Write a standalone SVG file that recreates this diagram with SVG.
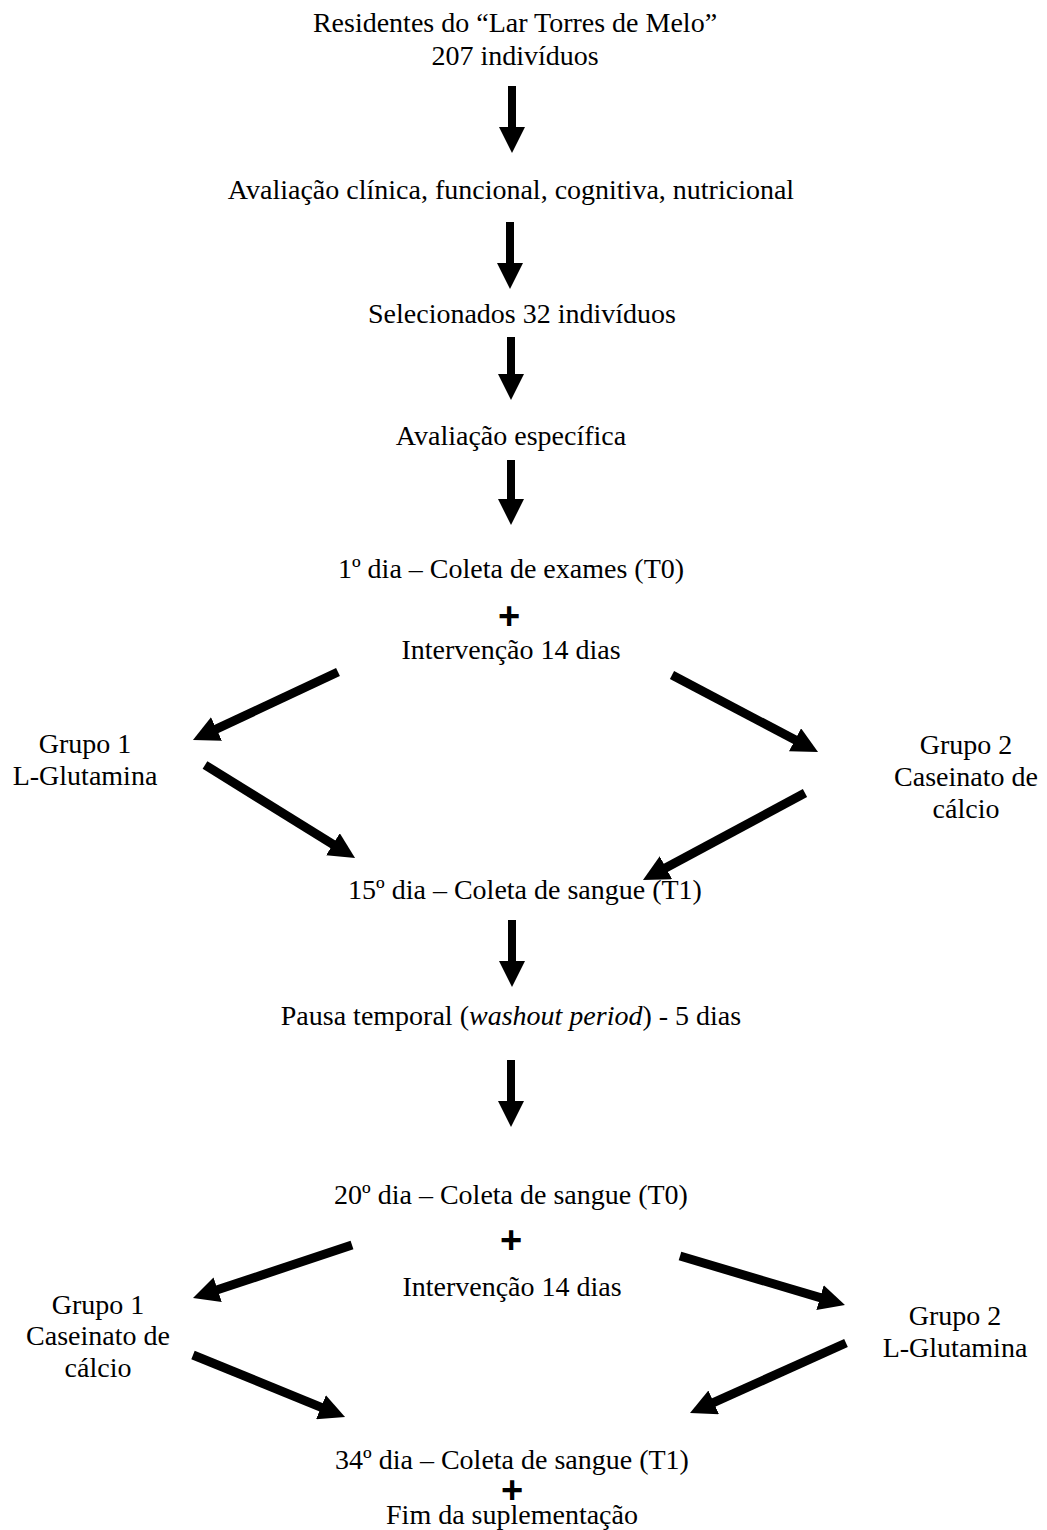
<svg xmlns="http://www.w3.org/2000/svg" width="1047" height="1530" viewBox="0 0 1047 1530">
<style>
  text { font-family: "Liberation Serif", "Times New Roman", serif; font-size: 28px; fill: #000; text-anchor: middle; }
  .plus { font-family: "Liberation Sans", Arial, sans-serif; font-weight: bold; font-size: 38px; }
  .v { stroke: #000; stroke-width: 8; fill: none; marker-end: url(#ah); }
  .d { stroke: #000; stroke-width: 9; fill: none; marker-end: url(#ah); }
</style>
<defs>
  <marker id="ah" markerUnits="userSpaceOnUse" markerWidth="26" markerHeight="26" refX="1" refY="13" orient="auto" viewBox="0 0 26 26">
    <path d="M0,0 L26,13 L0,26 z" fill="#000"/>
  </marker>
</defs>
<rect width="1047" height="1530" fill="#fff"/>

<g id="n1"><text x="515" y="32">Residentes do “Lar Torres de Melo”</text><text x="515" y="65">207 indivíduos</text></g>
<g id="n2"><text x="511" y="199">Avaliação clínica, funcional, cognitiva, nutricional</text></g>
<g id="n3"><text x="522" y="323">Selecionados 32 indivíduos</text></g>
<g id="n4"><text x="511" y="445">Avaliação específica</text></g>
<g id="n5"><text x="511" y="578">1º dia – Coleta de exames (T0)</text><text class="plus" x="509" y="629">+</text><text x="511" y="659">Intervenção 14 dias</text></g>
<g id="n6"><text x="85" y="753">Grupo 1</text><text x="85" y="785">L-Glutamina</text></g>
<g id="n7"><text x="966" y="754">Grupo 2</text><text x="966" y="786">Caseinato de</text><text x="966" y="818">cálcio</text></g>
<g id="n8"><text x="525" y="899">15º dia – Coleta de sangue (T1)</text></g>
<g id="n9"><text x="511" y="1025">Pausa temporal (<tspan font-style="italic">washout period</tspan>) - 5 dias</text></g>
<g id="n10"><text x="511" y="1204">20º dia – Coleta de sangue (T0)</text><text class="plus" x="511" y="1253">+</text><text x="512" y="1296">Intervenção 14 dias</text></g>
<g id="n11"><text x="98" y="1314">Grupo 1</text><text x="98" y="1345">Caseinato de</text><text x="98" y="1377">cálcio</text></g>
<g id="n12"><text x="955" y="1325">Grupo 2</text><text x="955" y="1357">L-Glutamina</text></g>
<g id="n13"><text x="512" y="1469">34º dia – Coleta de sangue (T1)</text><text class="plus" x="512" y="1503">+</text><text x="512" y="1524">Fim da suplementação</text></g>

<g id="connectors">
  <line class="v" x1="512" y1="86" x2="512" y2="128"/>
  <line class="v" x1="510" y1="222" x2="510" y2="264"/>
  <line class="v" x1="511" y1="337" x2="511" y2="375"/>
  <line class="v" x1="511" y1="460" x2="511" y2="500"/>
  <line class="v" x1="512" y1="920" x2="512" y2="962"/>
  <line class="v" x1="511" y1="1060" x2="511" y2="1102"/>
  <line class="d" x1="338" y1="672" x2="215.6" y2="729.4"/>
  <line class="d" x1="672" y1="675" x2="795.9" y2="740.3"/>
  <line class="d" x1="205" y1="765" x2="333.8" y2="844.8"/>
  <line class="d" x1="805" y1="793" x2="665" y2="868.2"/>
  <line class="d" x1="352" y1="1245" x2="216.7" y2="1290.1"/>
  <line class="d" x1="680" y1="1256" x2="821" y2="1297.9"/>
  <line class="d" x1="193" y1="1355" x2="321.9" y2="1407.6"/>
  <line class="d" x1="846" y1="1343" x2="712.8" y2="1402.8"/>
</g>
</svg>
